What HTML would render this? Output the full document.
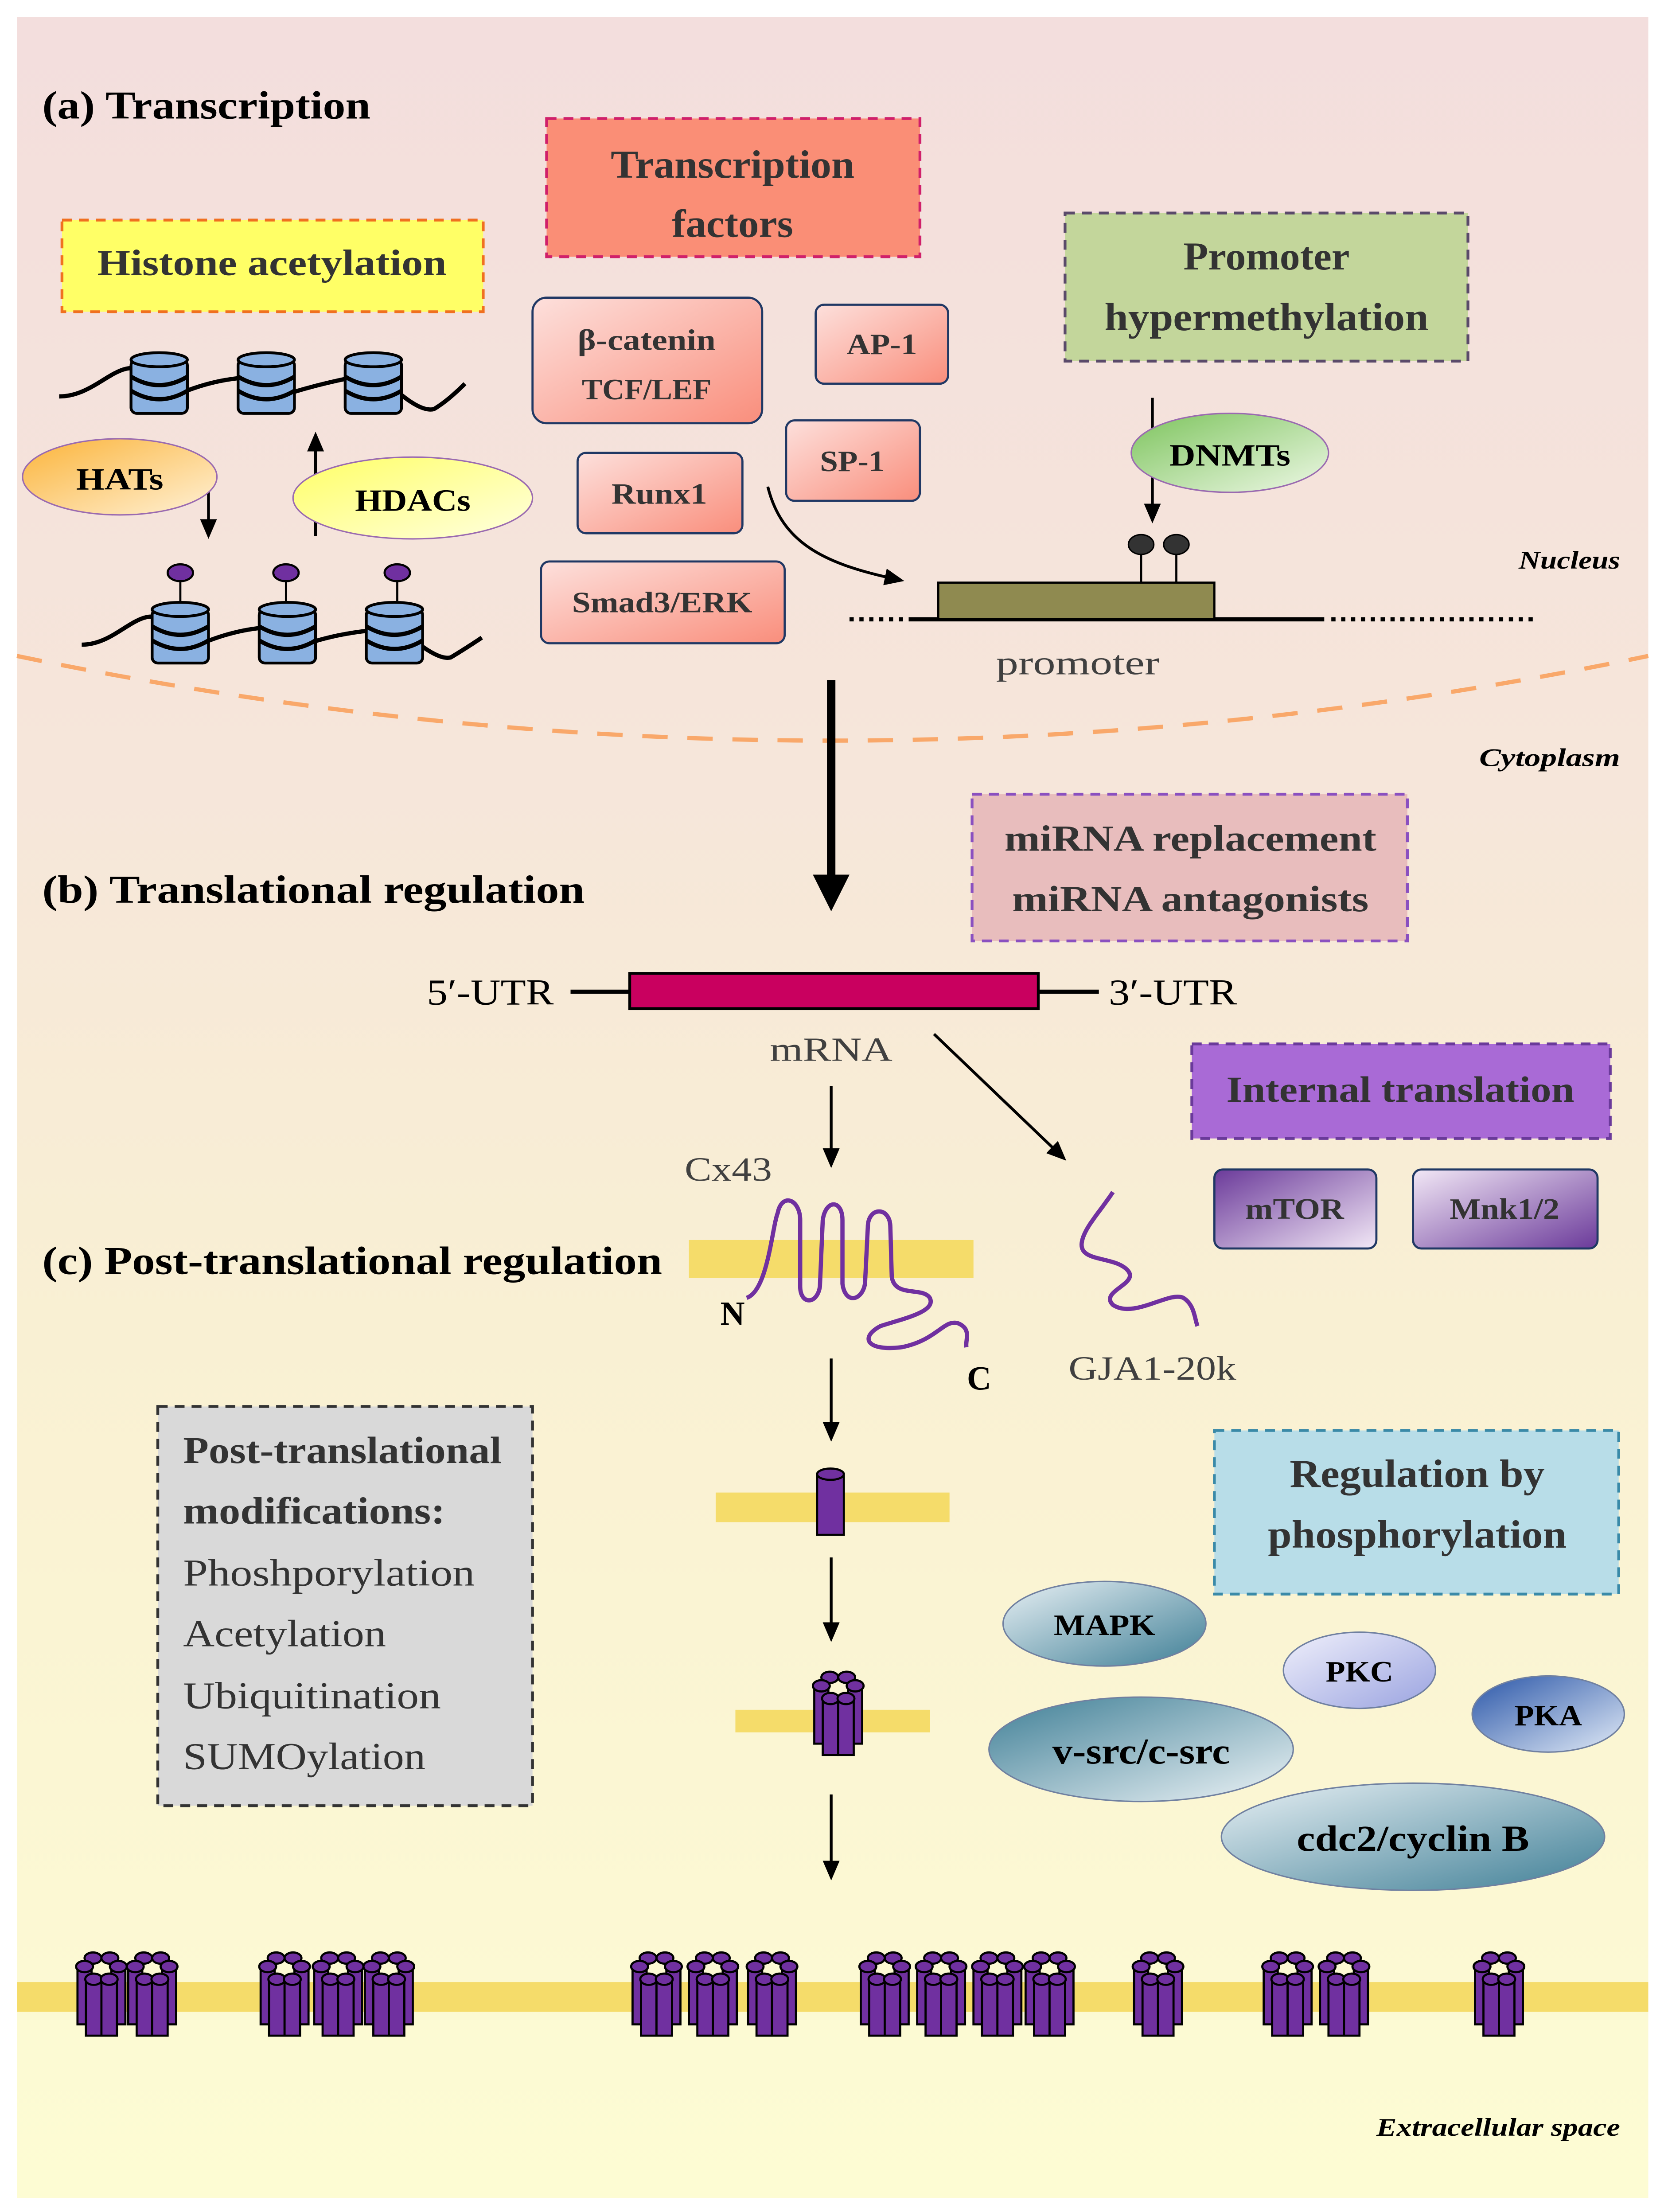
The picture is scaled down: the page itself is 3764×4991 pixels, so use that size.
<!DOCTYPE html>
<html><head><meta charset="utf-8">
<style>
html,body{margin:0;padding:0;background:#fff;}
svg{display:block;}
text{font-family:"Liberation Serif",serif;}
</style></head>
<body>
<svg width="3764" height="4991" viewBox="0 0 1184 1568" xmlns="http://www.w3.org/2000/svg" preserveAspectRatio="none">
<defs>
<linearGradient id="bg" x1="0" y1="0" x2="0" y2="1">
<stop offset="0" stop-color="#f3dedd"/><stop offset="0.35" stop-color="#f6e6da"/><stop offset="0.6" stop-color="#f9f0d3"/><stop offset="1" stop-color="#fdfcd3"/></linearGradient>
<linearGradient id="tf" x1="0" y1="0" x2="1" y2="1"><stop offset="0" stop-color="#fde0dc"/><stop offset="1" stop-color="#f98e7c"/></linearGradient>
<linearGradient id="hat" x1="0" y1="0" x2="1" y2="1"><stop offset="0" stop-color="#fbb43a"/><stop offset="1" stop-color="#fff1d6"/></linearGradient>
<linearGradient id="hdac" x1="0" y1="0" x2="1" y2="1"><stop offset="0" stop-color="#ffff66"/><stop offset="1" stop-color="#ffffe0"/></linearGradient>
<linearGradient id="dnmt" x1="0" y1="0" x2="1" y2="1"><stop offset="0" stop-color="#7dc45d"/><stop offset="1" stop-color="#eef8e6"/></linearGradient>
<linearGradient id="mtor" x1="0" y1="0" x2="1" y2="1"><stop offset="0" stop-color="#6b3a9a"/><stop offset="1" stop-color="#f2e8f6"/></linearGradient>
<linearGradient id="mnk" x1="0" y1="0" x2="1" y2="1"><stop offset="0" stop-color="#f2e8f6"/><stop offset="1" stop-color="#6b3a9a"/></linearGradient>
<linearGradient id="kin" x1="0" y1="0" x2="1" y2="1"><stop offset="0" stop-color="#e8f0f4"/><stop offset="1" stop-color="#3f7f96"/></linearGradient>
<linearGradient id="kin2" x1="0" y1="0" x2="1" y2="1"><stop offset="0" stop-color="#3f7f96"/><stop offset="1" stop-color="#eef4f7"/></linearGradient>
<linearGradient id="pkc" x1="0" y1="0" x2="1" y2="1"><stop offset="0" stop-color="#f0f0fb"/><stop offset="1" stop-color="#9aa3e0"/></linearGradient>
<linearGradient id="pka" x1="0" y1="0" x2="1" y2="1"><stop offset="0" stop-color="#2a56a8"/><stop offset="1" stop-color="#e2ebf7"/></linearGradient>
<marker id="ah" markerWidth="14" markerHeight="12" refX="10" refY="6" orient="auto" markerUnits="userSpaceOnUse"><path d="M0,0 L14,6 L0,12 z" fill="#000"/></marker>
<g id="nuc">
<rect x="-20" y="-18" width="40" height="38" rx="4" fill="#8ab1e1" stroke="#000" stroke-width="2"/>
<ellipse cx="0" cy="-18" rx="20" ry="5" fill="#8ab1e1" stroke="#000" stroke-width="2"/>
<path d="M-20,-6 Q0,6 20,-6 M-20,4 Q0,16 20,4" fill="none" stroke="#000" stroke-width="3"/>
</g>
<g id="cx">
<rect x="-17" y="-12" width="10" height="42" fill="#7030a0" stroke="#000" stroke-width="1.5"/>
<rect x="7" y="-12" width="10" height="42" fill="#7030a0" stroke="#000" stroke-width="1.5"/>
<rect x="-11" y="-2" width="11" height="40" fill="#7030a0" stroke="#000" stroke-width="1.5"/>
<rect x="0" y="-2" width="11" height="40" fill="#7030a0" stroke="#000" stroke-width="1.5"/>
<ellipse cx="-6" cy="-17" rx="6" ry="4" fill="#7030a0" stroke="#000" stroke-width="1.5"/>
<ellipse cx="6" cy="-17" rx="6" ry="4" fill="#7030a0" stroke="#000" stroke-width="1.5"/>
<ellipse cx="-12" cy="-11" rx="6" ry="4" fill="#7030a0" stroke="#000" stroke-width="1.5"/>
<ellipse cx="12" cy="-11" rx="6" ry="4" fill="#7030a0" stroke="#000" stroke-width="1.5"/>
<ellipse cx="-5.5" cy="-2" rx="6" ry="4" fill="#7030a0" stroke="#000" stroke-width="1.5"/>
<ellipse cx="5.5" cy="-2" rx="6" ry="4" fill="#7030a0" stroke="#000" stroke-width="1.5"/>
</g>
</defs>
<rect x="0" y="0" width="1184" height="1568" fill="#fff"/>
<rect x="12" y="12" width="1158" height="1546" fill="url(#bg)"/>

<path d="M12,465 Q590,585 1170,465" fill="none" stroke="#f9a86a" stroke-width="3" stroke-dasharray="18,14"/>
<text x="1150" y="403" font-size="18" font-style="italic" font-weight="bold" text-anchor="end" textLength="72" lengthAdjust="spacingAndGlyphs">Nucleus</text>
<text x="1150" y="543" font-size="18" font-style="italic" font-weight="bold" text-anchor="end" textLength="100" lengthAdjust="spacingAndGlyphs">Cytoplasm</text>
<text x="1150" y="1514" font-size="18" font-style="italic" font-weight="bold" text-anchor="end" textLength="173" lengthAdjust="spacingAndGlyphs">Extracellular space</text>

<text x="30" y="84" font-size="28" font-weight="bold" textLength="233" lengthAdjust="spacingAndGlyphs">(a) Transcription</text>
<text x="30" y="640" font-size="28" font-weight="bold" textLength="385" lengthAdjust="spacingAndGlyphs">(b) Translational regulation</text>
<text x="30" y="903" font-size="28" font-weight="bold" textLength="440" lengthAdjust="spacingAndGlyphs">(c) Post-translational regulation</text>

<rect x="44" y="156" width="299" height="65" fill="#ffff66" stroke="#f07020" stroke-width="2" stroke-dasharray="7,5"/>
<text x="193" y="195" font-size="26" font-weight="bold" text-anchor="middle" fill="#333" textLength="248" lengthAdjust="spacingAndGlyphs">Histone acetylation</text>
<path d="M42,281 C70,281 85,250 105,265" fill="none" stroke="#000" stroke-width="3"/>
<path d="M130,278 Q150,270 170,268 M208,278 Q228,272 248,268 M285,280 Q300,292 308,290 Q318,284 330,272" fill="none" stroke="#000" stroke-width="3"/>
<use href="#nuc" x="113" y="273"/><use href="#nuc" x="189" y="273"/><use href="#nuc" x="265" y="273"/>
<path d="M58,457 C85,457 100,425 120,442" fill="none" stroke="#000" stroke-width="3"/>
<path d="M146,455 Q166,447 186,445 M222,455 Q242,449 262,447 M298,457 Q313,468 320,466 Q330,460 342,452" fill="none" stroke="#000" stroke-width="3"/>
<use href="#nuc" x="128" y="450"/><use href="#nuc" x="204" y="450"/><use href="#nuc" x="280" y="450"/>
<g stroke="#000" stroke-width="1.5" fill="#7030a0">
<line x1="128" y1="411" x2="128" y2="426"/><ellipse cx="128" cy="406" rx="9" ry="6"/>
<line x1="203" y1="411" x2="203" y2="426"/><ellipse cx="203" cy="406" rx="9" ry="6"/>
<line x1="282" y1="411" x2="282" y2="426"/><ellipse cx="282" cy="406" rx="9" ry="6"/>
</g>
<line x1="148" y1="332" x2="148" y2="378" stroke="#000" stroke-width="2" marker-end="url(#ah)"/>
<line x1="224" y1="380" x2="224" y2="310" stroke="#000" stroke-width="2" marker-end="url(#ah)"/>
<ellipse cx="85" cy="338" rx="69" ry="27" fill="url(#hat)" stroke="#9a6ab0" stroke-width="1"/>
<text x="85" y="347" font-size="22" font-weight="bold" text-anchor="middle" textLength="62" lengthAdjust="spacingAndGlyphs">HATs</text>
<ellipse cx="293" cy="353" rx="85" ry="29" fill="url(#hdac)" stroke="#9a6ab0" stroke-width="1"/>
<text x="293" y="362" font-size="22" font-weight="bold" text-anchor="middle" textLength="82" lengthAdjust="spacingAndGlyphs">HDACs</text>

<rect x="388" y="84" width="265" height="98" fill="#fa8e76" stroke="#d0206a" stroke-width="2" stroke-dasharray="7,5"/>
<text x="520" y="126" font-size="28" font-weight="bold" text-anchor="middle" fill="#333" textLength="173" lengthAdjust="spacingAndGlyphs">Transcription</text>
<text x="520" y="168" font-size="28" font-weight="bold" text-anchor="middle" fill="#333" textLength="86" lengthAdjust="spacingAndGlyphs">factors</text>
<g stroke="#203864" stroke-width="1.5" fill="url(#tf)">
<rect x="378" y="211" width="163" height="89" rx="10"/>
<rect x="579" y="216" width="94" height="56" rx="6"/>
<rect x="558" y="298" width="95" height="57" rx="6"/>
<rect x="410" y="321" width="117" height="57" rx="6"/>
<rect x="384" y="398" width="173" height="58" rx="6"/>
</g>
<g font-size="21" font-weight="bold" text-anchor="middle" fill="#333">
<text x="459" y="248" textLength="98" lengthAdjust="spacingAndGlyphs">β-catenin</text><text x="459" y="283" textLength="92" lengthAdjust="spacingAndGlyphs">TCF/LEF</text>
<text x="626" y="251" textLength="50" lengthAdjust="spacingAndGlyphs">AP-1</text>
<text x="605" y="334" textLength="46" lengthAdjust="spacingAndGlyphs">SP-1</text>
<text x="468" y="357" textLength="68" lengthAdjust="spacingAndGlyphs">Runx1</text>
<text x="470" y="434" textLength="128" lengthAdjust="spacingAndGlyphs">Smad3/ERK</text>
</g>
<path d="M545,345 C555,385 585,400 638,411" fill="none" stroke="#000" stroke-width="2" marker-end="url(#ah)"/>

<rect x="756" y="151" width="286" height="105" fill="#c3d69b" stroke="#5a4a6a" stroke-width="2" stroke-dasharray="7,5"/>
<text x="899" y="191" font-size="28" font-weight="bold" text-anchor="middle" fill="#333" textLength="118" lengthAdjust="spacingAndGlyphs">Promoter</text>
<text x="899" y="234" font-size="28" font-weight="bold" text-anchor="middle" fill="#333" textLength="230" lengthAdjust="spacingAndGlyphs">hypermethylation</text>
<line x1="818" y1="282" x2="818" y2="367" stroke="#000" stroke-width="2" marker-end="url(#ah)"/>
<ellipse cx="873" cy="321" rx="70" ry="28" fill="url(#dnmt)" stroke="#9a6ab0" stroke-width="1"/>
<text x="873" y="330" font-size="22" font-weight="bold" text-anchor="middle" textLength="86" lengthAdjust="spacingAndGlyphs">DNMTs</text>
<line x1="603" y1="439" x2="648" y2="439" stroke="#000" stroke-width="3" stroke-dasharray="3,4"/>
<line x1="648" y1="439" x2="940" y2="439" stroke="#000" stroke-width="3"/>
<line x1="945" y1="439" x2="1088" y2="439" stroke="#000" stroke-width="3" stroke-dasharray="3,4"/>
<rect x="666" y="413" width="196" height="26" fill="#8f8a50" stroke="#000" stroke-width="1.5"/>
<line x1="810" y1="392" x2="810" y2="413" stroke="#000" stroke-width="1.5"/><line x1="835" y1="392" x2="835" y2="413" stroke="#000" stroke-width="1.5"/>
<ellipse cx="810" cy="386" rx="9" ry="7" fill="#333" stroke="#000"/><ellipse cx="835" cy="386" rx="9" ry="7" fill="#333" stroke="#000"/>
<text x="765" y="478" font-size="24" text-anchor="middle" fill="#404040" textLength="116" lengthAdjust="spacingAndGlyphs">promoter</text>

<line x1="590" y1="482" x2="590" y2="625" stroke="#000" stroke-width="6"/>
<path d="M577,620 L603,620 L590,646 z" fill="#000"/>

<rect x="690" y="563" width="309" height="104" fill="#e8bdbd" stroke="#8a50c0" stroke-width="2" stroke-dasharray="7,5"/>
<text x="845" y="603" font-size="26" font-weight="bold" text-anchor="middle" fill="#333" textLength="264" lengthAdjust="spacingAndGlyphs">miRNA replacement</text>
<text x="845" y="646" font-size="26" font-weight="bold" text-anchor="middle" fill="#333" textLength="253" lengthAdjust="spacingAndGlyphs">miRNA antagonists</text>

<line x1="405" y1="703" x2="447" y2="703" stroke="#000" stroke-width="3"/>
<line x1="737" y1="703" x2="780" y2="703" stroke="#000" stroke-width="3"/>
<rect x="447" y="690" width="290" height="25" fill="#c9005f" stroke="#000" stroke-width="2"/>
<text x="393" y="712" font-size="26" text-anchor="end" textLength="90" lengthAdjust="spacingAndGlyphs">5′-UTR</text>
<text x="787" y="712" font-size="26" textLength="91" lengthAdjust="spacingAndGlyphs">3′-UTR</text>
<text x="590" y="752" font-size="24" text-anchor="middle" fill="#404040" textLength="87" lengthAdjust="spacingAndGlyphs">mRNA</text>
<line x1="590" y1="770" x2="590" y2="824" stroke="#000" stroke-width="2" marker-end="url(#ah)"/>
<line x1="663" y1="733" x2="754" y2="820" stroke="#000" stroke-width="2" marker-end="url(#ah)"/>

<rect x="846" y="740" width="297" height="67" fill="#a96ad6" stroke="#6a3a9a" stroke-width="2" stroke-dasharray="7,5"/>
<text x="994" y="781" font-size="26" font-weight="bold" text-anchor="middle" fill="#333" textLength="247" lengthAdjust="spacingAndGlyphs">Internal translation</text>
<rect x="862" y="829" width="115" height="56" rx="6" fill="url(#mtor)" stroke="#203864" stroke-width="1.5"/>
<text x="919" y="864" font-size="21" font-weight="bold" text-anchor="middle" fill="#333" textLength="70" lengthAdjust="spacingAndGlyphs">mTOR</text>
<rect x="1003" y="829" width="131" height="56" rx="6" fill="url(#mnk)" stroke="#203864" stroke-width="1.5"/>
<text x="1068" y="864" font-size="21" font-weight="bold" text-anchor="middle" fill="#333" textLength="78" lengthAdjust="spacingAndGlyphs">Mnk1/2</text>

<text x="517" y="837" font-size="24" text-anchor="middle" fill="#404040" textLength="62" lengthAdjust="spacingAndGlyphs">Cx43</text>
<rect x="489" y="879" width="202" height="27" fill="#f5dc6a"/>
<path d="M530,920 C545,915 548,870 552,860 C555,845 568,850 568,865 L568,912 C568,925 580,925 582,912 L584,865 C586,850 598,850 598,865 L598,910 C600,925 612,922 614,910 L616,870 C616,855 632,855 632,870 L633,905 C635,920 655,912 660,920 C665,930 640,935 625,940 C610,948 615,958 640,955 C665,950 670,935 680,938 C690,942 685,950 686,955" fill="none" stroke="#7030a0" stroke-width="3"/>
<text x="520" y="939" font-size="24" font-weight="bold" text-anchor="middle">N</text>
<text x="695" y="985" font-size="24" font-weight="bold" text-anchor="middle">C</text>
<path d="M790,845 C780,860 770,870 768,880 C765,895 790,890 800,900 C810,910 780,915 790,925 C805,935 830,915 840,920 C848,925 848,935 850,940" fill="none" stroke="#7030a0" stroke-width="3"/>
<text x="818" y="978" font-size="24" text-anchor="middle" fill="#404040" textLength="119" lengthAdjust="spacingAndGlyphs">GJA1-20k</text>

<line x1="590" y1="963" x2="590" y2="1018" stroke="#000" stroke-width="2" marker-end="url(#ah)"/>
<rect x="508" y="1058" width="166" height="21" fill="#f5dc6a"/>
<rect x="580" y="1045" width="19" height="43" fill="#7030a0" stroke="#000" stroke-width="1.5"/>
<ellipse cx="589.5" cy="1045" rx="9.5" ry="4" fill="#7030a0" stroke="#000" stroke-width="1.5"/>
<line x1="590" y1="1104" x2="590" y2="1160" stroke="#000" stroke-width="2" marker-end="url(#ah)"/>
<rect x="522" y="1212" width="138" height="16" fill="#f5dc6a"/>
<use href="#cx" x="595" y="1206"/>
<line x1="590" y1="1272" x2="590" y2="1329" stroke="#000" stroke-width="2" marker-end="url(#ah)"/>

<rect x="112" y="997" width="266" height="283" fill="#d9d9d9" stroke="#333" stroke-width="2" stroke-dasharray="7,5"/>
<g font-size="27" fill="#333">
<text x="130" y="1037" font-weight="bold" textLength="226" lengthAdjust="spacingAndGlyphs">Post-translational</text>
<text x="130" y="1080" font-weight="bold" textLength="186" lengthAdjust="spacingAndGlyphs">modifications:</text>
<text x="130" y="1124" textLength="207" lengthAdjust="spacingAndGlyphs">Phoshporylation</text>
<text x="130" y="1167" textLength="144" lengthAdjust="spacingAndGlyphs">Acetylation</text>
<text x="130" y="1211" textLength="183" lengthAdjust="spacingAndGlyphs">Ubiquitination</text>
<text x="130" y="1254" textLength="172" lengthAdjust="spacingAndGlyphs">SUMOylation</text>
</g>

<rect x="862" y="1014" width="287" height="116" fill="#b8dde8" stroke="#3a8aa8" stroke-width="2" stroke-dasharray="7,5"/>
<text x="1006" y="1054" font-size="28" font-weight="bold" text-anchor="middle" fill="#333" textLength="181" lengthAdjust="spacingAndGlyphs">Regulation by</text>
<text x="1006" y="1097" font-size="28" font-weight="bold" text-anchor="middle" fill="#333" textLength="212" lengthAdjust="spacingAndGlyphs">phosphorylation</text>
<ellipse cx="784" cy="1151" rx="72" ry="30" fill="url(#kin)" stroke="#7080a0" stroke-width="1"/>
<text x="784" y="1159" font-size="21" font-weight="bold" text-anchor="middle" textLength="72" lengthAdjust="spacingAndGlyphs">MAPK</text>
<ellipse cx="965" cy="1184" rx="54" ry="27" fill="url(#pkc)" stroke="#7080a0" stroke-width="1"/>
<text x="965" y="1192" font-size="21" font-weight="bold" text-anchor="middle" textLength="48" lengthAdjust="spacingAndGlyphs">PKC</text>
<ellipse cx="1099" cy="1215" rx="54" ry="27" fill="url(#pka)" stroke="#7080a0" stroke-width="1"/>
<text x="1099" y="1223" font-size="21" font-weight="bold" text-anchor="middle" textLength="48" lengthAdjust="spacingAndGlyphs">PKA</text>
<ellipse cx="810" cy="1240" rx="108" ry="37" fill="url(#kin2)" stroke="#7080a0" stroke-width="1"/>
<text x="810" y="1250" font-size="26" font-weight="bold" text-anchor="middle" textLength="126" lengthAdjust="spacingAndGlyphs">v-src/c-src</text>
<ellipse cx="1003" cy="1302" rx="136" ry="38" fill="url(#kin)" stroke="#7080a0" stroke-width="1"/>
<text x="1003" y="1312" font-size="26" font-weight="bold" text-anchor="middle" textLength="165" lengthAdjust="spacingAndGlyphs">cdc2/cyclin B</text>

<rect x="12" y="1405" width="1158" height="21" fill="#f5dc6a"/>
<g>
<use href="#cx" x="72" y="1405"/><use href="#cx" x="108" y="1405"/>
<use href="#cx" x="202" y="1405"/><use href="#cx" x="240" y="1405"/><use href="#cx" x="276" y="1405"/>
<use href="#cx" x="466" y="1405"/><use href="#cx" x="506" y="1405"/><use href="#cx" x="548" y="1405"/>
<use href="#cx" x="628" y="1405"/><use href="#cx" x="668" y="1405"/><use href="#cx" x="708" y="1405"/><use href="#cx" x="745" y="1405"/>
<use href="#cx" x="822" y="1405"/>
<use href="#cx" x="914" y="1405"/><use href="#cx" x="954" y="1405"/>
<use href="#cx" x="1064" y="1405"/>
</g>
</svg>
</body></html>
